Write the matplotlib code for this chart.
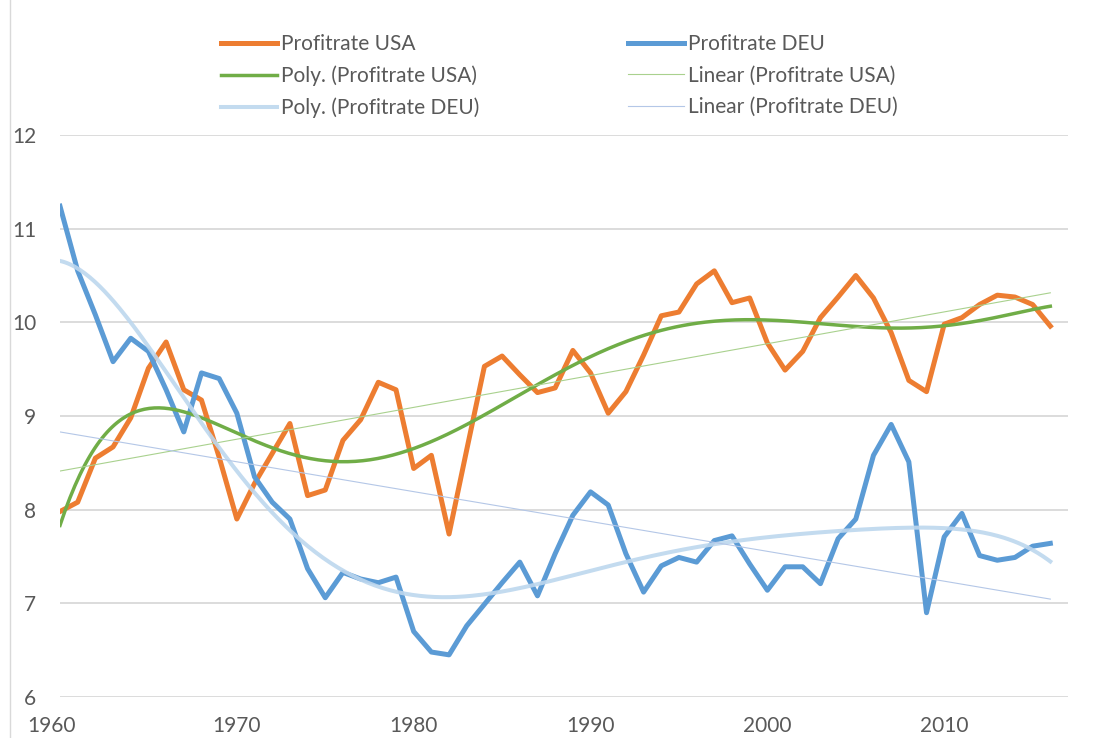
import numpy as np
import matplotlib
matplotlib.use("Agg")
import matplotlib.pyplot as plt
import matplotlib.transforms as mtransforms
from matplotlib.lines import Line2D

plt.rcParams['font.family'] = ['Lato', 'DejaVu Sans']

# data
years = list(range(1960, 2017))

profit_usa = [7.98, 8.08, 8.55, 8.67, 8.98, 9.51, 9.79, 9.28, 9.17, 8.56,
              7.90, 8.28, 8.60, 8.92, 8.15, 8.21, 8.74, 8.96, 9.36, 9.28,
              8.44, 8.58, 7.74, 8.64, 9.53, 9.64, 9.44, 9.25, 9.30, 9.70,
              9.46, 9.03, 9.26, 9.65, 10.07, 10.11, 10.41, 10.55, 10.21, 10.26,
              9.78, 9.49, 9.69, 10.05, 10.27, 10.50, 10.26, 9.89, 9.38, 9.26,
              9.98, 10.05, 10.19, 10.29, 10.27, 10.19, 9.96]

profit_deu = [11.24, 10.55, 10.08, 9.58, 9.83, 9.69, 9.28, 8.83, 9.46, 9.40,
              9.03, 8.35, 8.08, 7.90, 7.37, 7.06, 7.33, 7.26, 7.22, 7.28,
              6.70, 6.48, 6.45, 6.76, 6.99, 7.22, 7.44, 7.08, 7.53, 7.94,
              8.19, 8.05, 7.53, 7.12, 7.40, 7.49, 7.44, 7.67, 7.72, 7.42,
              7.14, 7.39, 7.39, 7.21, 7.69, 7.90, 8.58, 8.91, 8.51, 6.90,
              7.71, 7.96, 7.51, 7.46, 7.49, 7.61, 7.64]

labels = ['Profitrate USA', 'Profitrate DEU',
          'Poly. (Profitrate USA)', 'Linear (Profitrate USA)',
          'Poly. (Profitrate DEU)', 'Linear (Profitrate DEU)']

poly_order = 6

x = np.array(years, dtype=float)
t = x - 1960
tt = np.linspace(t[0], t[-1], 400)

def poly_trend(vals, deg):
    c = np.polyfit(t, vals, deg)
    return np.polyval(c, tt)

usa_poly = poly_trend(profit_usa, poly_order)
deu_poly = poly_trend(profit_deu, poly_order)
usa_lin = poly_trend(profit_usa, 1)
deu_lin = poly_trend(profit_deu, 1)

fig = plt.figure(figsize=(10.98, 7.38), dpi=100)
ax = fig.add_axes([60 / 1098, 41 / 738, 1008 / 1098, 562 / 738])

orange = '#ED7D31'
blue = '#5B9BD5'
green = '#70AD47'
lightblue = '#BDD7EE'

l_usa, = ax.plot(x, profit_usa, color=orange, lw=3.6, solid_joinstyle='round', zorder=3)
l_deu, = ax.plot(x, profit_deu, color=blue, lw=3.6, solid_joinstyle='round', zorder=3)
l_upoly, = ax.plot(tt + 1960, usa_poly, color=green, lw=2.5, zorder=4)
l_ulin, = ax.plot(tt + 1960, usa_lin, color='#A9D18E', lw=0.8, zorder=4)
l_dpoly, = ax.plot(tt + 1960, deu_poly, color=lightblue, lw=2.9, alpha=0.9, zorder=4)
l_dlin, = ax.plot(tt + 1960, deu_lin, color='#B4C7E7', lw=0.8, zorder=4)

ax.set_xlim(1960, 2017)
ax.set_ylim(6, 12)
ax.set_yticks(range(6, 13))
ax.set_xticks(range(1960, 2011, 10))
ax.grid(axis='y', color='#D9D9D9', lw=1.3)
ax.set_axisbelow(True)
for s in ax.spines.values():
    s.set_visible(False)
ax.tick_params(length=0, labelsize=15, colors='#595959')
ax.tick_params(axis='x', pad=14)
ax.tick_params(axis='y', pad=17)

# first year label sits a bit left in the original
first = ax.get_xticklabels()[0]
first.set_transform(first.get_transform() +
                    mtransforms.ScaledTranslation(-8 / 100, 0, fig.dpi_scale_trans))

# legend in excel order (matplotlib fills column-wise)
handles = [l_usa, l_upoly, l_dpoly, l_deu, l_ulin, l_dlin]
order_labels = [labels[0], labels[2], labels[4], labels[1], labels[3], labels[5]]
fig.legend(handles, order_labels, ncol=2, loc='upper left',
           bbox_to_anchor=(221 / 1098, 1 - 34 / 738), frameon=False,
           fontsize=15, labelcolor='#595959', handlelength=2.7,
           handletextpad=0.2, columnspacing=7.1, labelspacing=0.55,
           borderpad=0, borderaxespad=0)

# chart border on the left edge
fig.add_artist(Line2D([10 / 1098, 10 / 1098], [0, 1], color='#D9D9D9', lw=1.0))

fig.savefig('out.png', dpi=100)
